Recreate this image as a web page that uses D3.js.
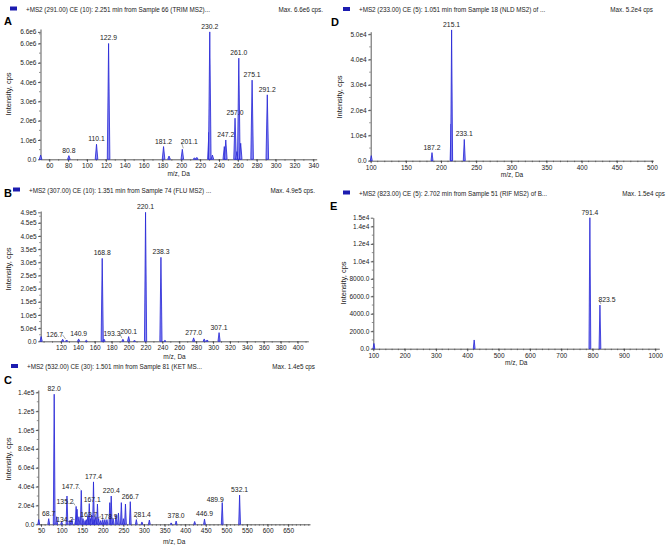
<!DOCTYPE html>
<html>
  <head>
    <title>MS2 spectra</title>
    <style>
      body { margin: 0; background: #fff; }
      text { font-family: "Liberation Sans", Arial, sans-serif; fill: #222; }
      .peak { fill: #8a8af2; stroke: #2323d6; stroke-width: 0.8; }
      .axis path, .axis line { stroke: #333; stroke-width: 0.8; }
    </style>
  </head>
  <body>
    <div id="chart"></div>
    <script src="https://cdn.jsdelivr.net/npm/d3@7/dist/d3.min.js"></script>
<script>

// ---- panel A : TRIM ----
var mzA  = [50.8, 80.8, 110.1, 122.9, 181.2, 187.0, 201.1, 214.0, 216.5, 229.3, 230.2, 233.0, 245.6, 247.2, 257.0, 259.0, 261.0, 263.0, 275.1, 291.2];
var intA = [0.22e6, 0.19e6, 0.78e6, 6.0e6, 0.66e6, 0.17e6, 0.52e6, 0.08e6, 0.1e6, 1.4e6, 6.6e6, 0.22e6, 0.66e6, 1.0e6, 2.13e6, 0.4e6, 5.24e6, 0.83e6, 4.1e6, 3.34e6];
var labA = [80.8, 110.1, 122.9, 181.2, 201.1, 230.2, 247.2, 257.0, 261.0, 275.1, 291.2];
var xTicksA = [60, 80, 100, 120, 140, 160, 180, 200, 220, 240, 260, 280, 300, 320, 340];
var yTicksA = [0, 1e6, 2e6, 3e6, 4e6, 5e6, 6e6, 6.6e6];
var yTickLabA = ["0.0", "1.0e6", "2.0e6", "3.0e6", "4.0e6", "5.0e6", "6.0e6", "6.6e6"];

// ---- panel B : FLU ----
var mzB  = [96.5, 122.0, 126.7, 140.9, 150.0, 168.8, 171.0, 193.3, 200.1, 207.0, 220.1, 238.3, 243.0, 277.0, 289.5, 293.0, 307.1];
var intB = [0.18e5, 0.08e5, 0.05e5, 0.09e5, 0.04e5, 3.15e5, 0.08e5, 0.08e5, 0.18e5, 0.03e5, 4.9e5, 3.19e5, 0.03e5, 0.13e5, 0.09e5, 0.05e5, 0.33e5];
var labB = [126.7, 140.9, 168.8, 193.3, 200.1, 220.1, 238.3, 277.0, 307.1];
var xTicksB = [120, 140, 160, 180, 200, 220, 240, 260, 280, 300, 320, 340, 360, 380, 400];
var yTicksB = [0, 5e4, 1e5, 1.5e5, 2e5, 2.5e5, 3e5, 3.5e5, 4e5, 4.5e5, 4.9e5];
var yTickLabB = ["0.0", "5.0e4", "1.0e5", "1.5e5", "2.0e5", "2.5e5", "3.0e5", "3.5e5", "4.0e5", "4.5e5", "4.9e5"];

// ---- panel C : KET ----
var mzC  = [44.5, 68.7, 82.0, 88.0, 100.0, 113.0, 120.0, 125.0, 134.2, 135.2, 137.5, 142.0, 147.7, 152.0, 157.0, 160.0, 163.7, 167.1, 170.0, 173.0, 177.4, 178.9, 183.0, 187.0, 190.0, 195.0, 200.0, 205.0, 210.0, 217.0, 220.4, 225.0, 232.0, 238.0, 245.0, 250.0, 255.0, 266.7, 281.4, 295.0, 313.0, 366.0, 378.0, 423.0, 446.9, 489.9, 532.1];
var intC = [0.5e4, 0.6e4, 1.38e5, 0.8e4, 0.3e4, 3.0e4, 0.4e4, 0.5e4, 0.4e4, 1.9e4, 1.6e4, 0.8e4, 3.6e4, 0.6e4, 0.4e4, 0.5e4, 0.9e4, 2.2e4, 0.6e4, 1.0e4, 4.5e4, 0.5e4, 0.8e4, 2.15e4, 0.6e4, 0.4e4, 0.5e4, 0.5e4, 0.5e4, 2.3e4, 3.0e4, 0.6e4, 1.0e4, 1.2e4, 2.3e4, 0.6e4, 2.15e4, 2.4e4, 0.5e4, 0.25e4, 0.45e4, 0.15e4, 0.35e4, 0.3e4, 0.55e4, 2.3e4, 3.1e4];
var labC = [68.7, 82.0, 134.2, 135.2, 147.7, 163.7, 167.1, 177.4, 178.9, 220.4, 266.7, 281.4, 378.0, 446.9, 489.9, 532.1];
var xTicksC = [50, 100, 150, 200, 250, 300, 350, 400, 450, 500, 550, 600, 650];
var yTicksC = [0, 2e4, 4e4, 6e4, 8e4, 1e5, 1.2e5, 1.4e5];
var yTickLabC = ["0.0", "2.0e4", "4.0e4", "6.0e4", "8.0e4", "1.0e5", "1.2e5", "1.4e5"];

// ---- panel D : NLD ----
var mzD  = [100.8, 187.2, 214.4, 215.1, 233.1];
var intD = [0.2e4, 0.32e4, 1.45e4, 5.17e4, 0.84e4];
var labD = [187.2, 215.1, 233.1];
var xTicksD = [100, 150, 200, 250, 300, 350, 400, 450, 500];
var yTicksD = [0, 1e4, 2e4, 3e4, 4e4, 5e4];
var yTickLabD = ["0.0", "1.0e4", "2.0e4", "3.0e4", "4.0e4", "5.0e4"];

// ---- panel E : RIF ----
var mzE  = [102.0, 422.0, 791.4, 823.5];
var intE = [600, 1000, 15000, 5000];
var labE = [791.4, 823.5];
var xTicksE = [100, 200, 300, 400, 500, 600, 700, 800, 900, 1000];
var yTicksE = [0, 2000, 4000, 6000, 8000, 1e4, 1.2e4, 1.4e4, 1.5e4];
var yTickLabE = ["0.0", "2000.0", "4000.0", "6000.0", "8000.0", "1.0e4", "1.2e4", "1.4e4", "1.5e4"];

var W = 666, H = 546;

var svg = d3.select('#chart')
  .append('svg')
  .attr("width", W)
  .attr("height", H);

// layout of each panel (pixels), kept apart from the values
var panels = [
  {letter: "A", lx: 4, ly: 25, head: "+MS2 (291.00) CE (10): 2.251 min from Sample 66 (TRIM MS2)...", max: "Max. 6.6e6 cps.",
   hx: 10, hy: 11.5, maxX: 323,
   mz: mzA, int: intA, lab: labA, xt: xTicksA, xMinor: 10, yt: yTicksA, ytl: yTickLabA, yMinor: 5e5,
   xd: [50.7, 343.6], xr: [40.5, 316.7], yd: [0, 6.75e6], yr: [159.3, 29], hw: 1.3,
   ylabX: 8, ylabY: 94, xlabY: 176,
   shift: {"201.1": [7, -2]}},
  {letter: "B", lx: 4, ly: 197, head: "+MS2 (307.00) CE (10): 1.351 min from Sample 74 (FLU MS2) ...", max: "Max. 4.9e5 cps.",
   hx: 13, hy: 192.5, maxX: 315,
   mz: mzB, int: intB, lab: labB, xt: xTicksB, xMinor: 10, yt: yTicksB, ytl: yTickLabB, yMinor: 2.5e4,
   xd: [96, 412.7], xr: [40.7, 308.3], yd: [0, 4.95e5], yr: [341.3, 211], hw: 1.1,
   ylabX: 8, ylabY: 269, xlabY: 359,
   shift: {"126.7": [-12, 0], "193.3": [-11, 0]}},
  {letter: "C", lx: 4, ly: 384, head: "+MS2 (532.00) CE (30): 1.501 min from Sample 81 (KET MS...", max: "Max. 1.4e5 cps",
   hx: 11, hy: 369, maxX: 315,
   mz: mzC, int: intC, lab: labC, xt: xTicksC, xMinor: 10, yt: yTicksC, ytl: yTickLabC, yMinor: 1e4,
   xd: [43.4, 703], xr: [38.3, 310], yd: [0, 1.425e5], yr: [524.3, 390], hw: 0.9,
   ylabX: 8, ylabY: 459, xlabY: 544,
   shift: {"134.2": [-11, 4], "135.2": [-11, 1], "147.7": [-11, 2], "163.7": [1, 4], "167.1": [3, 1], "178.9": [15, 2], "281.4": [6, 0], "489.9": [-7, 2]}},
  {letter: "D", lx: 331, ly: 26, head: "+MS2 (233.00) CE (5): 1.051 min from Sample 18 (NLD MS2) of ...", max: "Max. 5.2e4 cps",
   hx: 343, hy: 12, maxX: 653,
   mz: mzD, int: intD, lab: labD, xt: xTicksD, xMinor: 10, yt: yTicksD, ytl: yTickLabD, yMinor: 5e3,
   xd: [100, 502], xr: [370.7, 653.3], yd: [0, 5.1e4], yr: [160.7, 31.7], hw: 1.0,
   ylabX: 339, ylabY: 97, xlabY: 177,
   shift: {}},
  {letter: "E", lx: 330, ly: 210, head: "+MS2 (823.00) CE (5): 2.702 min from Sample 51 (RIF MS2) of B...", max: "Max. 1.5e4 cps",
   hx: 343, hy: 195.5, maxX: 665,
   mz: mzE, int: intE, lab: labE, xt: xTicksE, xMinor: 20, yt: yTicksE, ytl: yTickLabE, yMinor: 1000,
   xd: [100, 1013], xr: [373.3, 659.3], yd: [0, 1.5e4], yr: [348.7, 217.7], hw: 0.9,
   ylabX: 343, ylabY: 283, xlabY: 365,
   shift: {"823.5": [7, 0]}}
];

panels.forEach(function(p) {
  var g = svg.append("g");

  var x = d3.scaleLinear().domain(p.xd).range(p.xr);
  var y = d3.scaleLinear().domain(p.yd).range(p.yr);
  var y0 = y(0);

  // header
  g.append("rect")
    .attr("x", p.hx).attr("y", p.hy - 5)
    .attr("width", 7).attr("height", 4)
    .style("fill", "#1c1cb0");
  g.append("text")
    .attr("x", p.hx + 16).attr("y", p.hy)
    .style("font-size", "6.3px")
    .text(p.head);
  g.append("text")
    .attr("x", p.maxX).attr("y", p.hy)
    .attr("text-anchor", "end")
    .style("font-size", "6.3px")
    .text(p.max);

  g.append("text")
    .attr("x", p.lx).attr("y", p.ly)
    .style("font-size", "11px")
    .style("font-weight", "bold")
    .style("fill", "#000")
    .text(p.letter);

  // minor ticks
  var xm = d3.range(Math.ceil(p.xd[0] / p.xMinor) * p.xMinor, p.xd[1], p.xMinor);
  g.selectAll(".xminor").data(xm).enter().append("line")
    .attr("x1", function(d){return x(d);}).attr("x2", function(d){return x(d);})
    .attr("y1", y0).attr("y2", y0 + 1.5)
    .style("stroke", "#444").style("stroke-width", 0.6);
  var ym = d3.range(0, p.yd[1], p.yMinor);
  g.selectAll(".yminor").data(ym).enter().append("line")
    .attr("x1", p.xr[0]).attr("x2", p.xr[0] - 1.5)
    .attr("y1", function(d){return y(d);}).attr("y2", function(d){return y(d);})
    .style("stroke", "#444").style("stroke-width", 0.6);

  // axes
  var xa = g.append("g")
    .attr("class", "axis")
    .attr("transform", "translate(0," + y0 + ")")
    .call(d3.axisBottom(x).tickValues(p.xt).tickFormat(function(d){return String(d);})
      .tickSize(2.5).tickSizeOuter(0).tickPadding(2));
  xa.selectAll("text").style("font-size", "6.5px").style("fill", "#222");

  var ya = g.append("g")
    .attr("class", "axis")
    .attr("transform", "translate(" + p.xr[0] + ",0)")
    .call(d3.axisLeft(y).tickValues(p.yt).tickFormat(function(d, i){return p.ytl[i];})
      .tickSize(2.5).tickSizeOuter(0).tickPadding(1.5));
  ya.selectAll("text").style("font-size", "6.5px").style("fill", "#222");

  g.append("text")
    .attr("x", (p.xr[0] + p.xr[1]) / 2).attr("y", p.xlabY)
    .attr("text-anchor", "middle")
    .style("font-size", "6.5px")
    .text("m/z, Da");

  g.append("text")
    .attr("transform", "translate(" + p.ylabX + "," + p.ylabY + ") rotate(-90)")
    .attr("text-anchor", "middle")
    .attr("dy", "0.35em")
    .style("font-size", "7.5px")
    .text("Intensity, cps");

  // peaks
  var peaks = p.mz.map(function(m, i){ return {mz: m, v: p.int[i]}; });
  g.selectAll(".peak").data(peaks).enter().append("path")
    .attr("class", "peak")
    .attr("d", function(d) {
      var cx = x(d.mz);
      return "M" + (cx - p.hw) + "," + y0 + "L" + cx + "," + y(d.v) + "L" + (cx + p.hw) + "," + y0 + "Z";
    });

  // peak labels
  p.lab.forEach(function(m) {
    var i = p.mz.indexOf(m);
    var key = m.toFixed(1);
    var s = p.shift[key] || [0, 0];
    var px = x(m), py = y(p.int[i]);
    var tx = px + s[0], ty = py - 3 + s[1];
    if (Math.abs(s[0]) > 4) {
      var ex = s[0] < 0 ? tx + 8 : tx - 8;
      g.append("path")
        .attr("d", "M" + ex + "," + (ty - 2) + "L" + (px + (s[0] < 0 ? -1 : 1)) + "," + (py - 1))
        .style("fill", "none").style("stroke", "#555").style("stroke-width", 0.5);
    }
    g.append("text")
      .attr("x", tx).attr("y", ty)
      .attr("text-anchor", "middle")
      .style("font-size", "6.8px")
      .text(key);
  });
});

</script>
  </body>
</html>
